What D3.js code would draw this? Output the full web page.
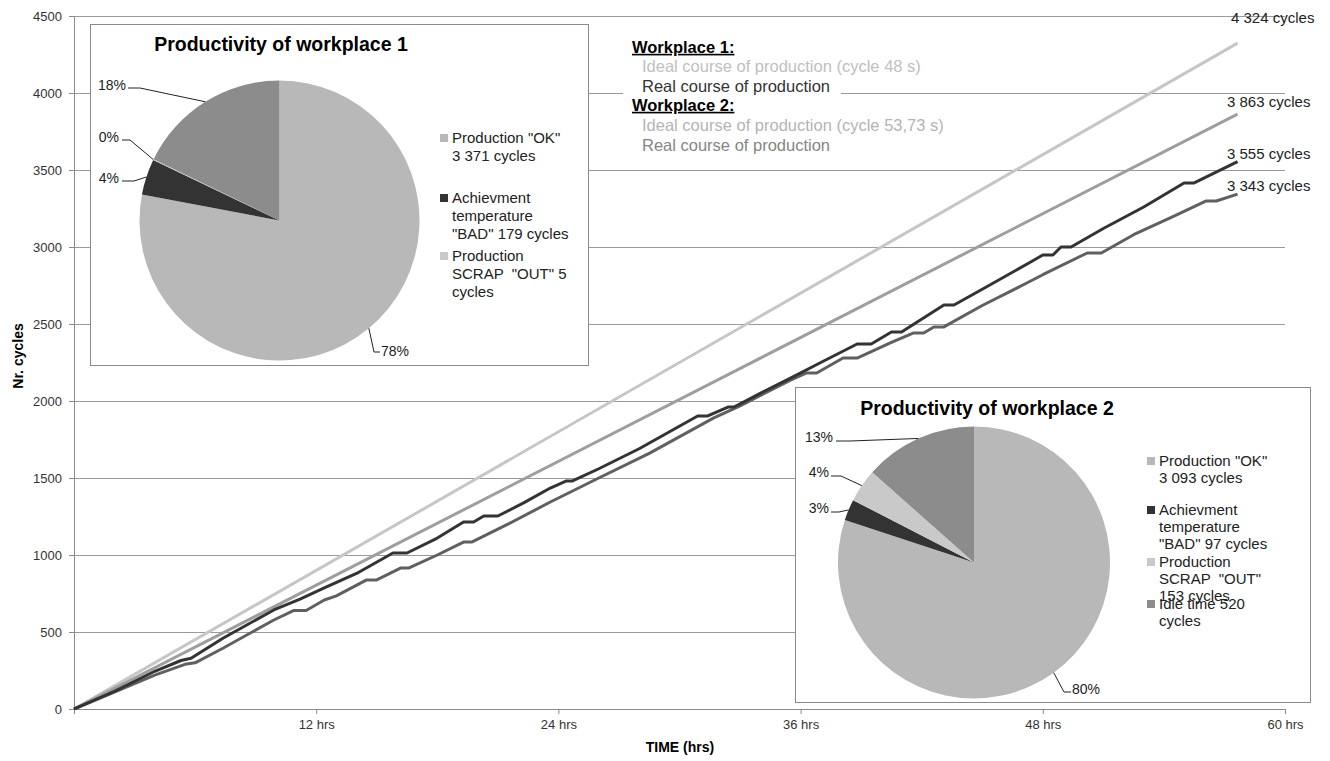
<!DOCTYPE html>
<html>
<head>
<meta charset="utf-8">
<script src="https://cdn.jsdelivr.net/npm/d3@7"></script>
<style>
  html, body { margin: 0; padding: 0; background: #fff; }
  svg text { font-family: "Liberation Sans", Arial, sans-serif; white-space: pre; }
</style>
</head>
<body>
<svg id="chart" width="1330" height="761"></svg>
<script>
// ---------------- DATA ----------------
const timeTicks = [12, 24, 36, 48, 60];
const timeTickLabels = ["12 hrs", "24 hrs", "36 hrs", "48 hrs", "60 hrs"];
const cycleTicks = [0, 500, 1000, 1500, 2000, 2500, 3000, 3500, 4000, 4500];

// ideal courses (hours, cycles)
const idealTime = [0, 57.65];
const wp1IdealCycles = [0, 4324];
const wp2IdealCycles = [0, 3863];

// real course workplace 1 (hours, cycles)
const wp1RealTime = [0, 2, 4, 5.3, 5.8, 7.4, 9.9, 11.2, 12.4, 14, 15.8, 16.5, 18, 19.3, 19.8, 20.3, 21, 22.3, 23.6, 24.4, 24.7, 26, 28, 30.9, 31.4, 32.4, 32.7, 34, 35.5, 37, 38.8, 39.5, 40.5, 41, 43.1, 43.6, 45.2, 47.4, 48, 48.5, 48.9, 49.4, 51, 53, 55, 55.5, 57.65];
const wp1RealCycles = [0, 115, 245, 315, 330, 461, 643, 714, 786, 880, 1013, 1013, 1110, 1214, 1214, 1253, 1253, 1340, 1435, 1481, 1481, 1560, 1690, 1903, 1903, 1961, 1961, 2050, 2149, 2250, 2370, 2370, 2448, 2448, 2623, 2623, 2740, 2903, 2948, 2948, 3000, 3000, 3120, 3260, 3416, 3416, 3555];

// real course workplace 2
const wp2RealTime = [0, 2, 4, 5.5, 6, 7.4, 9.9, 10.9, 11.5, 12.4, 13, 14.5, 15, 16.2, 16.6, 18, 19.3, 19.7, 21.5, 23.6, 26, 28.5, 31.7, 33, 35.5, 36.3, 36.8, 38.1, 38.8, 40.5, 41.6, 42.1, 42.6, 43.1, 45, 47.4, 48, 50.2, 50.9, 52.5, 54.5, 56.1, 56.6, 57.65];
const wp2RealCycles = [0, 110, 220, 290, 300, 396, 578, 640, 640, 708, 735, 838, 838, 916, 916, 1000, 1084, 1084, 1200, 1344, 1500, 1660, 1890, 1968, 2136, 2182, 2182, 2279, 2279, 2380, 2442, 2442, 2481, 2481, 2620, 2779, 2820, 2961, 2961, 3080, 3200, 3299, 3299, 3343];

const endLabels = ["4 324 cycles", "3 863 cycles", "3 555 cycles", "3 343 cycles"];

// pies
const pieCategories = ["OK", "BAD", "SCRAP", "IDLE"];
const pie1Values = [3371, 179, 5, 769];
const pie2Values = [3093, 97, 153, 520];
const pie1Legend = [
  ["Production \"OK\"", "3 371 cycles"],
  ["Achievment", "temperature", "\"BAD\" 179 cycles"],
  ["Production", "SCRAP  \"OUT\" 5", "cycles"]
];
const pie2Legend = [
  ["Production \"OK\"", "3 093 cycles"],
  ["Achievment", "temperature", "\"BAD\" 97 cycles"],
  ["Production", "SCRAP  \"OUT\"", "153 cycles"],
  ["Idle time 520", "cycles"]
];

// legend texts
const legendRows = [
  {text: "Workplace 1:", kind: "head"},
  {text: "Ideal course of production (cycle 48 s)", kind: "wp1ideal"},
  {text: "Real course of production", kind: "wp1real"},
  {text: "Workplace 2:", kind: "head"},
  {text: "Ideal course of production (cycle 53,73 s)", kind: "wp2ideal"},
  {text: "Real course of production", kind: "wp2real"}
];

// ---------------- STYLE ----------------
const colors = {
  wp1ideal: "#c6c6c6", wp2ideal: "#9e9e9e", wp1real: "#333333", wp2real: "#606060",
  grid: "#9a9a9a", axis: "#8a8a8a", text: "#333333"
};
const textColors = {head: "#000", wp1ideal: "#c0c0c0", wp1real: "#333", wp2ideal: "#b4b4b4", wp2real: "#858585"};
const pieColors = ["#b8b8b8", "#333333", "#c9c9c9", "#8c8c8c"];

// ---------------- CHART ----------------
const svg = d3.select("#chart");
const x = d3.scaleLinear().domain([0, 60]).range([74, 1285]);
const y = d3.scaleLinear().domain([0, 4500]).range([709, 16]);

// gridlines
svg.append("g").selectAll("line").data(cycleTicks.filter(d => d > 0)).join("line")
  .attr("x1", x(0)).attr("x2", x(60))
  .attr("y1", d => Math.round(y(d)) + 0.5).attr("y2", d => Math.round(y(d)) + 0.5)
  .attr("stroke", colors.grid).attr("stroke-width", 1);

// axes
const yAxis = svg.append("g").attr("transform", `translate(${x(0)},0)`)
  .call(d3.axisLeft(y).tickValues(cycleTicks).tickSize(5).tickPadding(7).tickFormat(d3.format("d")));
const xAxis = svg.append("g").attr("transform", `translate(0,${y(0)})`)
  .call(d3.axisBottom(x).tickValues(timeTicks).tickSize(5).tickPadding(6)
    .tickFormat((d, i) => timeTickLabels[i]));
[yAxis, xAxis].forEach(g => {
  g.select(".domain").attr("stroke", colors.axis);
  g.selectAll(".tick line").attr("stroke", colors.axis);
  g.selectAll(".tick text").attr("fill", colors.text).style("font-size", "13px")
    .style("font-family", "Liberation Sans, Arial, sans-serif");
});

// axis titles
svg.append("text").attr("x", 680).attr("y", 752).attr("text-anchor", "middle")
  .style("font-size", "14px").style("font-weight", "bold").text("TIME (hrs)");
svg.append("text").attr("transform", "translate(23,356) rotate(-90)").attr("text-anchor", "middle")
  .style("font-size", "14px").style("font-weight", "bold").text("Nr. cycles");

// lines
const line = d3.line().x(d => x(d[0])).y(d => y(d[1]));
const series = [
  {pts: d3.zip(idealTime, wp1IdealCycles), c: colors.wp1ideal},
  {pts: d3.zip(idealTime, wp2IdealCycles), c: colors.wp2ideal},
  {pts: d3.zip(wp2RealTime, wp2RealCycles), c: colors.wp2real},
  {pts: d3.zip(wp1RealTime, wp1RealCycles), c: colors.wp1real}
];
svg.append("g").selectAll("path").data(series).join("path")
  .attr("d", d => line(d.pts)).attr("fill", "none")
  .attr("stroke", d => d.c).attr("stroke-width", 3).attr("stroke-linejoin", "round");

// end labels
const endVals = [wp1IdealCycles[1], wp2IdealCycles[1], wp1RealCycles[wp1RealCycles.length - 1], wp2RealCycles[wp2RealCycles.length - 1]];
const endOffsets = [-25, -12, -8, -8];
svg.append("g").selectAll("text").data(endLabels).join("text")
  .attr("x", (d, i) => i === 0 ? 1231 : 1227).attr("y", (d, i) => y(endVals[i]) + endOffsets[i])
  .attr("dy", "0.35em").style("font-size", "15px").attr("fill", "#222").text(d => d);

// legend box
svg.append("rect").attr("x", 623).attr("y", 34).attr("width", 218).attr("height", 122).attr("fill", "#fff");
const legendY = [47, 66, 86, 105, 125, 145];
const lg = svg.append("g");
legendRows.forEach((r, i) => {
  const t = lg.append("text").attr("x", r.kind === "head" ? 632 : 642).attr("y", legendY[i]).attr("dy", "0.35em")
    .style("font-size", "16.5px").attr("fill", textColors[r.kind]).text(r.text);
  if (r.kind === "head") t.style("font-weight", "bold").style("text-decoration", "underline");
});

// pies
function drawPie(values, opt) {
  const g = svg.append("g");
  g.append("rect").attr("x", opt.box[0] + 0.5).attr("y", opt.box[1] + 0.5)
    .attr("width", opt.box[2] - opt.box[0]).attr("height", opt.box[3] - opt.box[1])
    .attr("fill", "#fff").attr("stroke", "#8a8a8a");
  g.append("text").attr("x", opt.title[0]).attr("y", opt.title[1]).attr("text-anchor", "middle")
    .style("font-size", "19.5px").style("font-weight", "bold").attr("fill", "#000").text(opt.titleText);
  const pie = d3.pie().sort(null).value(d => d);
  const arcs = pie(values);
  const arc = d3.arc().innerRadius(0).outerRadius(opt.r);
  const edge = d3.arc().innerRadius(opt.r).outerRadius(opt.r);
  const pg = g.append("g").attr("transform", `translate(${opt.c[0]},${opt.c[1]})`);
  pg.selectAll("path").data(arcs).join("path").attr("d", arc).attr("fill", (d, i) => pieColors[i]);
  const total = d3.sum(values);
  arcs.forEach((a, i) => {
    const p = edge.centroid(a);
    const ap = [opt.c[0] + p[0], opt.c[1] + p[1]];
    const L = opt.labels[i];
    const pts = [ap, L.elbow, L.end];
    g.append("path").attr("d", d3.line()(pts)).attr("fill", "none").attr("stroke", "#222").attr("stroke-width", 1);
    g.append("text").attr("x", L.pos[0]).attr("y", L.pos[1]).attr("dy", "0.35em")
      .attr("text-anchor", L.anchor).style("font-size", "14px").attr("fill", "#222")
      .text(Math.round(values[i] / total * 100) + "%");
  });
  // legend
  opt.legend.forEach((lines, i) => {
    const y0 = opt.legendY[i];
    g.append("rect").attr("x", opt.legendX - 12).attr("y", y0 - 4).attr("width", 8).attr("height", 8)
      .attr("fill", pieColors[i]);
    lines.forEach((ln, j) => {
      g.append("text").attr("x", opt.legendX).attr("y", y0 + j * opt.lh).attr("dy", "0.35em")
        .style("font-size", "15px").attr("fill", "#222").text(ln);
    });
  });
}

drawPie(pie1Values, {
  box: [90, 24, 588, 365], title: [281, 51], titleText: "Productivity of workplace 1",
  c: [279.5, 220.5], r: 140,
  labels: [
    {pos: [381, 351], anchor: "start", elbow: [374, 352], end: [380, 352]},
    {pos: [119, 178], anchor: "end", elbow: [134, 181], end: [122, 181]},
    {pos: [119, 137], anchor: "end", elbow: [130, 140], end: [122, 140]},
    {pos: [126, 85], anchor: "end", elbow: [140, 88], end: [128, 88]}
  ],
  legend: pie1Legend, legendX: 452, legendY: [138, 198, 256], lh: 18
});

drawPie(pie2Values, {
  box: [795, 387, 1310, 702], title: [987, 415], titleText: "Productivity of workplace 2",
  c: [974, 562.5], r: 136,
  labels: [
    {pos: [1072, 689], anchor: "start", elbow: [1064, 692], end: [1071, 692]},
    {pos: [829, 508], anchor: "end", elbow: [839, 512], end: [831, 512]},
    {pos: [829, 472], anchor: "end", elbow: [841, 476], end: [831, 476]},
    {pos: [833, 437], anchor: "end", elbow: [850, 441], end: [836, 441]}
  ],
  legend: pie2Legend, legendX: 1159, legendY: [461, 510, 562, 604], lh: 17
});
</script>
</body>
</html>
